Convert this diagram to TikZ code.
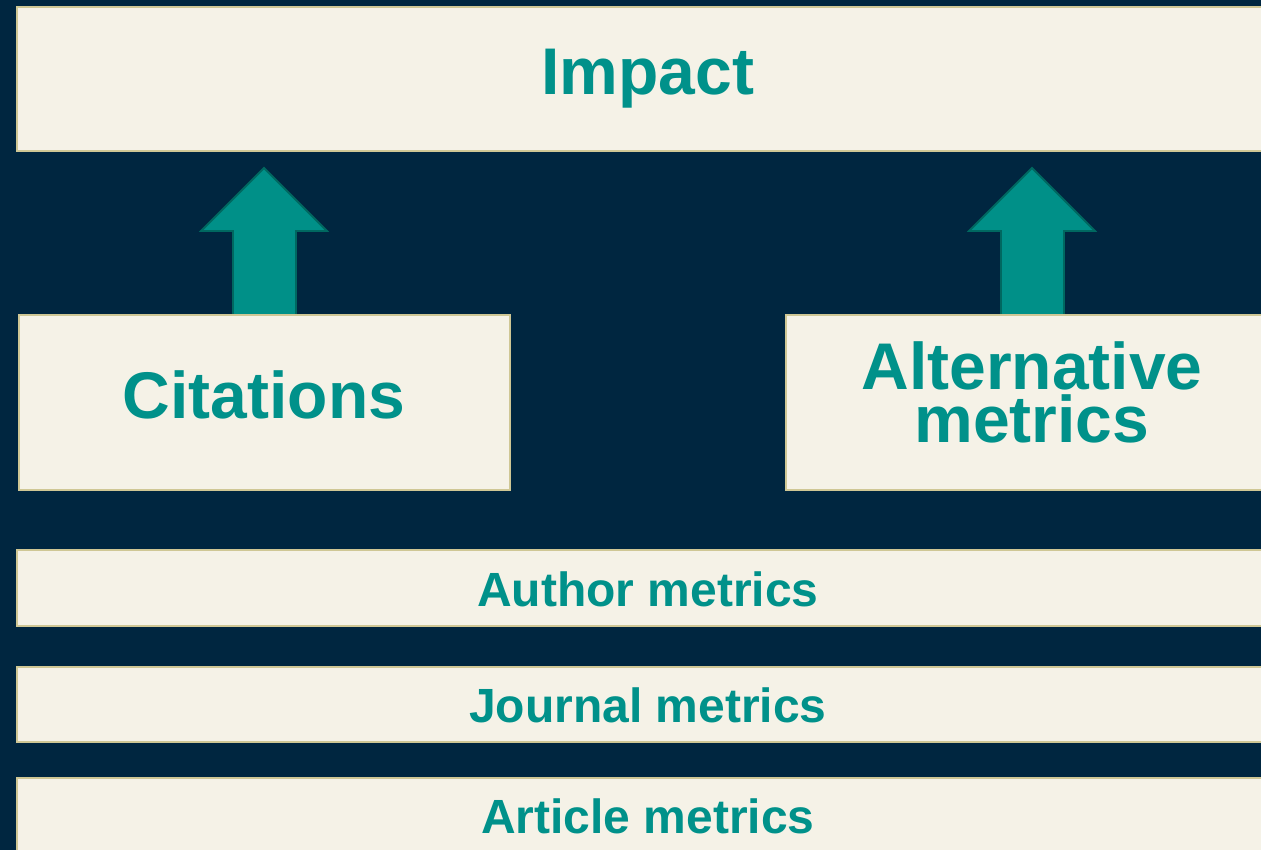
\documentclass[tikz,border=0pt]{standalone}
\usepackage{fontspec}
\setmainfont{Liberation Sans}
\usetikzlibrary{calc}
\definecolor{bgnavy}{RGB}{0,38,64}
\definecolor{boxfill}{RGB}{245,242,231}
\definecolor{boxline}{RGB}{207,199,149}
\definecolor{tealtext}{RGB}{0,145,138}
\definecolor{arrowfill}{RGB}{0,144,136}
\definecolor{arrowline}{RGB}{0,104,96}
\tikzset{
  panel/.style={fill=boxfill, draw=boxline, line width=1.6pt},
  bigtext/.style={text=tealtext, font=\fontsize{66}{53}\selectfont\bfseries, align=center, inner sep=0pt},
  midtext/.style={text=tealtext, font=\fontsize{48}{50}\selectfont\bfseries, align=center, inner sep=0pt},
  blockarrow/.style={fill=arrowfill, draw=arrowline, line width=1.8pt, line join=miter}
}
\begin{document}
\begin{tikzpicture}[x=1pt,y=-1pt]
\useasboundingbox (0,0) rectangle (1261,850);
\fill[bgnavy] (0,0) rectangle (1261,850);
\clip (0,0) rectangle (1261,850);
% panels
\draw[panel] (17,7) rectangle (1300,151);
\draw[panel] (19,315) rectangle (510,490);
\draw[panel] (786,315) rectangle (1300,490);
\draw[panel] (17,550) rectangle (1300,626);
\draw[panel] (17,667) rectangle (1300,742);
\draw[panel] (17,778) rectangle (1300,880);
% texts
\node[bigtext, anchor=base] (impact) at (648,95) {Impact};
\node[bigtext, anchor=base] (cit) at (264,418) {Citations};
\node[bigtext, anchor=base] (alt) at (1032,442) {Alternative\\metrics};
\node[midtext, anchor=base] (auth) at (648,606) {Author metrics};
\node[midtext, anchor=base] (jour) at (648,722) {Journal metrics};
\node[midtext, anchor=base] (art) at (648,833) {Article metrics};
% block arrows (from panels up to Impact panel)
\draw[blockarrow] (233,315) -- (233,231) -- (201,231) -- (264,168) -- (327,231) -- (296,231) -- (296,315);
\draw[blockarrow] (1001,315) -- (1001,231) -- (969,231) -- (1032,168) -- (1095,231) -- (1064,231) -- (1064,315);
\draw[boxline, line width=1.6pt] (19,315) -- (510,315);
\draw[boxline, line width=1.6pt] (786,315) -- (1300,315);
\end{tikzpicture}
\end{document}
